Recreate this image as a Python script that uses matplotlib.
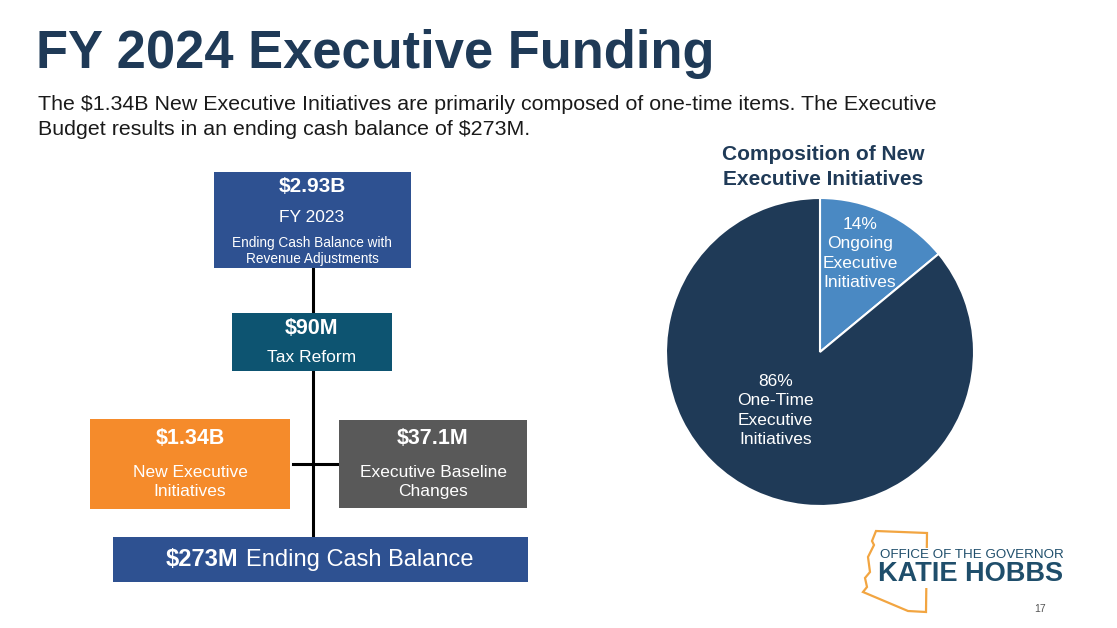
import matplotlib
matplotlib.use('Agg')
import matplotlib.pyplot as plt
from matplotlib.patches import Rectangle, Polygon

plt.rcParams['font.family'] = ['Liberation Sans', 'DejaVu Sans']

# ---------------- data ----------------
title = 'FY 2024 Executive Funding'
subtitle = ('The $1.34B New Executive Initiatives are primarily composed of one-time items. The Executive\n'
            'Budget results in an ending cash balance of $273M.')

box_amounts = ['$2.93B', '$90M', '$1.34B', '$37.1M', '$273M']
box_labels = ['FY 2023', 'Tax Reform', 'New Executive\nInitiatives',
              'Executive Baseline\nChanges', 'Ending Cash Balance']
box_notes = ['Ending Cash Balance with\nRevenue Adjustments', '', '', '', '']

pie_title = 'Composition of New\nExecutive Initiatives'
pie_shares = [14, 86]
pie_names = ['Ongoing\nExecutive\nInitiatives', 'One-Time\nExecutive\nInitiatives']

NAVY = '#1F3A57'
BLUE = '#2E5191'
TEAL = '#0D5471'
ORANGE = '#F58B2B'
GREY = '#595959'
LIGHT = '#4A89C3'

W, H = 1117, 628
fig = plt.figure(figsize=(W / 100, H / 100), dpi=100)
ax = fig.add_axes([0, 0, 1, 1])
ax.set_xlim(0, W)
ax.set_ylim(H, 0)
ax.axis('off')

# titles
ax.text(36, 54, title, fontsize=37.8, fontweight='bold', color=NAVY, va='center', ha='left')
ax.text(38, 117, subtitle, fontsize=15.4, color='#1a1a1a', va='center', ha='left', linespacing=1.35)

# connector lines
ax.plot([313, 313], [268, 313], color='black', lw=2.2, zorder=1)
ax.plot([313, 313], [371, 537], color='black', lw=2.2, zorder=1)
ax.plot([293, 337], [464, 464], color='black', lw=2.2, zorder=1)

# boxes: (x0, y0, x1, y1, colour)
boxes = [(214, 172, 411, 268, BLUE),
         (232, 313, 392, 371, TEAL),
         (90, 419, 290, 509, ORANGE),
         (339, 420, 527, 508, GREY),
         (113, 537, 528, 582, BLUE)]
for x0, y0, x1, y1, c in boxes:
    ax.add_patch(Rectangle((x0, y0), x1 - x0, y1 - y0, facecolor=c, edgecolor='none', zorder=2))

# top box text
ax.text(312, 187, box_amounts[0], fontsize=15, fontweight='bold', color='white', ha='center', va='center')
ax.text(312, 218, box_labels[0], fontsize=12.5, color='white', ha='center', va='center')
ax.text(312, 251, box_notes[0], fontsize=9.8, color='white', ha='center', va='center', linespacing=1.1)

# tax reform
ax.text(312, 328, box_amounts[1], fontsize=15.5, fontweight='bold', color='white', ha='center', va='center')
ax.text(312, 358, box_labels[1], fontsize=12.5, color='white', ha='center', va='center')

# side boxes
for (x0, y0, x1, y1, c), amt, lab in zip(boxes[2:4], box_amounts[2:4], box_labels[2:4]):
    xc = (x0 + x1) / 2
    ax.text(xc, 439, amt, fontsize=15.5, fontweight='bold', color='white', ha='center', va='center')
    ax.text(xc, 482, lab, fontsize=12.5, color='white', ha='center', va='center', linespacing=1.4)

# bottom box
ax.text(238, 560, box_amounts[4], fontsize=17, fontweight='bold', color='white', ha='right', va='center')
ax.text(246, 560, box_labels[4], fontsize=17, color='white', ha='left', va='center')

# pie title
ax.text(823, 167, pie_title, fontsize=15, fontweight='bold', color=NAVY, ha='center', va='center',
        linespacing=1.45)

# pie
cx, cy, r = 820, 352, 154
pax = fig.add_axes([(cx - r) / W, 1 - (cy + r) / H, 2 * r / W, 2 * r / H])
pax.pie(pie_shares, colors=[LIGHT, NAVY], startangle=90, counterclock=False, radius=1,
        wedgeprops=dict(edgecolor='white', linewidth=1.5))
pax.set_xlim(-1, 1)
pax.set_ylim(-1, 1)
pax.set_aspect('auto')
pax.axis('off')
label_pos = [(0.26, 0.64), (-0.29, -0.38)]
for share, name, (lx, ly) in zip(pie_shares, pie_names, label_pos):
    pax.text(lx, ly, f'{share}%\n{name}', fontsize=12.5, color='white', ha='center', va='center',
             linespacing=1.35)

# logo
az = [(876, 531), (927, 533), (926, 612), (908, 611), (863, 592), (867, 587), (865, 578),
      (870, 572), (868, 557), (874, 545), (872, 541)]
ax.add_patch(Polygon(az, closed=True, fill=False, edgecolor='#F2A541', lw=1.6, zorder=3))
ax.text(880, 555, 'OFFICE OF THE GOVERNOR', fontsize=9.6, color='#1F4E6B', ha='left', va='center',
        zorder=4, bbox=dict(facecolor='white', edgecolor='none', pad=1))
ax.text(878, 574, 'KATIE HOBBS', fontsize=19.5, fontweight='bold', color='#1F4E6B', ha='left',
        va='center', zorder=4, bbox=dict(facecolor='white', edgecolor='none', pad=0.5))
ax.text(1040, 609, '17', fontsize=7.5, color='#555555', ha='center', va='center')

fig.savefig('out.png', dpi=100)
